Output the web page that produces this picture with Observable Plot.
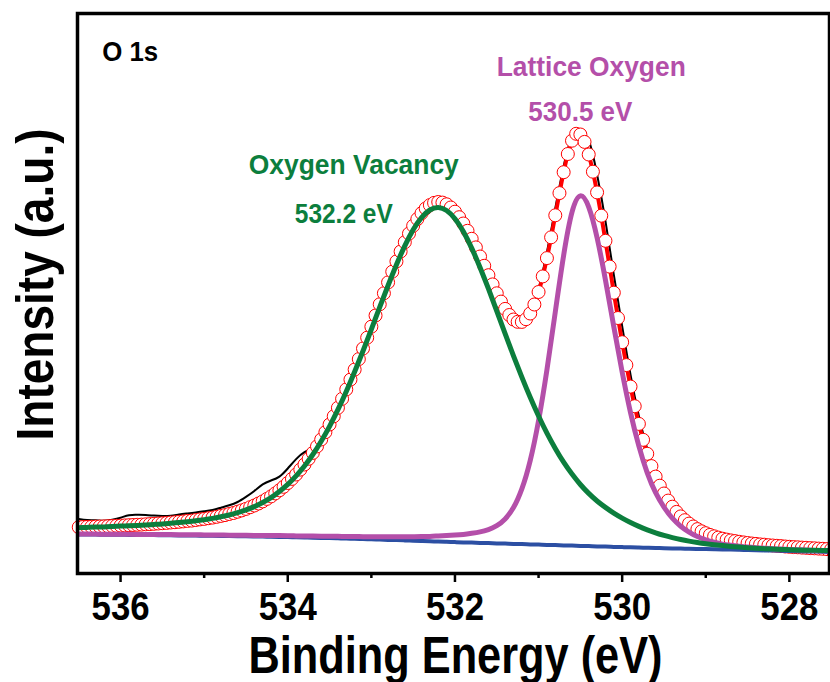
<!DOCTYPE html>
<html>
<head>
<meta charset="utf-8">
<script src="https://cdn.jsdelivr.net/npm/d3@7"></script>
<script src="https://cdn.jsdelivr.net/npm/@observablehq/plot@0.6"></script>
<style>
  html, body { margin: 0; padding: 0; background: #fff; }
  #chart svg { display: block; }
</style>
</head>
<body>
<div id="chart"></div>
<script>
// Binding energy grids (eV): the fitted envelope is sampled every 0.05 eV, the other curves every 0.1 eV
const envelopeStart = 536.5, envelopeStep = 0.05;
const curveStart = 536.5, curveStep = 0.1;

// Fitted envelope (red line with open circles), intensity in a.u.
const envelope = [
  46.3, 46.5, 46.6, 46.7, 46.9, 47.0, 47.1, 47.3, 47.5, 47.7,
  47.9, 48.1, 48.3, 48.5, 48.7, 48.9, 49.2, 49.4, 49.7, 50.0,
  50.3, 50.6, 51.0, 51.3, 51.7, 52.1, 52.6, 52.9, 53.5, 54.1,
  54.6, 55.3, 55.9, 56.7, 57.6, 58.4, 59.5, 60.5, 61.8, 63.1,
  64.6, 66.3, 68.0, 70.0, 72.1, 74.6, 77.1, 80.1, 83.2, 86.7,
  90.5, 94.6, 99.0, 103.9, 109.0, 114.7, 120.6, 127.1, 134.0, 141.3,
  149.0, 157.2, 165.7, 174.7, 184.1, 193.9, 203.9, 214.4, 225.0, 235.8,
  246.8, 258.0, 269.2, 280.2, 291.1, 301.8, 312.1, 322.0, 331.3, 339.9,
  347.7, 354.5, 360.3, 365.1, 368.4, 370.6, 371.5, 370.9, 369.2, 366.0,
  361.8, 356.3, 350.0, 342.7, 334.7, 326.1, 317.0, 307.7, 298.3, 289.1,
  280.2, 271.9, 264.6, 258.5, 254.0, 251.7, 251.6, 254.3, 260.0, 269.0,
  281.5, 297.1, 315.4, 336.2, 358.2, 380.4, 401.3, 419.5, 432.8, 439.7,
  439.0, 431.6, 419.0, 401.8, 381.1, 357.8, 332.7, 306.9, 280.8, 255.5,
  231.3, 208.4, 186.9, 167.3, 149.6, 133.7, 119.7, 107.4, 96.9, 87.8,
  80.0, 72.9, 66.8, 61.6, 57.1, 53.3, 49.9, 47.0, 44.4, 42.2,
  40.3, 38.6, 37.2, 35.9, 34.8, 33.9, 33.1, 32.4, 31.7, 31.1,
  30.5, 30.0, 29.6, 29.1, 28.8, 28.3, 28.0, 27.7, 27.4, 27.0,
  26.7, 26.4, 26.2, 25.9, 25.7, 25.4, 25.2, 24.9, 24.7, 24.4,
  24.2
];

// Background (blue)
const background = [
  39.0, 38.9, 38.9, 38.8, 38.8, 38.7, 38.6, 38.5, 38.5, 38.4,
  38.3, 38.2, 38.1, 38.0, 37.9, 37.8, 37.7, 37.6, 37.4, 37.3,
  37.2, 37.0, 36.9, 36.7, 36.6, 36.4, 36.2, 36.0, 35.8, 35.6,
  35.4, 35.2, 34.9, 34.7, 34.4, 34.2, 33.9, 33.6, 33.4, 33.1,
  32.8, 32.5, 32.2, 32.0, 31.7, 31.4, 31.1, 30.9, 30.6, 30.4,
  30.1, 29.9, 29.6, 29.4, 29.1, 28.9, 28.6, 28.4, 28.1, 27.9,
  27.6, 27.4, 27.1, 26.9, 26.6, 26.4, 26.2, 26.0, 25.7, 25.5,
  25.3, 25.1, 24.9, 24.8, 24.6, 24.4, 24.2, 24.0, 23.9, 23.7,
  23.5, 23.3, 23.1, 22.9, 22.7, 22.5, 22.3, 22.1, 21.9, 21.7,
  21.5
];

// Oxygen vacancy component, 532.2 eV (green)
const vacancyFit = [
  45.8, 46.1, 46.4, 46.6, 47.0, 47.4, 47.7, 48.1, 48.6, 49.1,
  49.6, 50.3, 51.0, 51.8, 52.7, 53.8, 55.1, 56.7, 58.5, 60.8,
  63.6, 66.9, 71.0, 75.9, 82.0, 89.1, 97.6, 107.5, 119.0, 132.3,
  147.2, 163.8, 182.0, 201.7, 222.5, 244.2, 266.3, 288.0, 308.8, 327.6,
  343.7, 355.9, 363.5, 366.0, 363.0, 354.8, 342.0, 325.4, 306.0, 284.8,
  262.5, 239.9, 217.7, 196.4, 176.2, 157.5, 140.4, 125.1, 111.3, 99.4,
  89.0, 80.1, 72.5, 66.1, 60.4, 55.4, 51.0, 47.1, 43.7, 40.7,
  38.1, 35.9, 34.0, 32.4, 31.0, 29.8, 28.8, 27.9, 27.1, 26.4,
  25.8, 25.3, 24.85, 24.45, 24.1, 23.8, 23.55, 23.35, 23.2, 23.05,
  22.9
];

// Lattice oxygen component, 530.5 eV (magenta)
const latticeFit = [
  39.5, 39.4, 39.4, 39.3, 39.3, 39.3, 39.2, 39.1, 39.1, 39.0,
  39.0, 38.9, 38.8, 38.8, 38.7, 38.6, 38.6, 38.5, 38.3, 38.3,
  38.2, 38.1, 38.1, 37.9, 37.9, 37.8, 37.6, 37.5, 37.4, 37.3,
  37.2, 37.2, 37.0, 37.0, 36.8, 36.8, 36.7, 36.7, 36.8, 36.8,
  36.8, 36.9, 37.1, 37.5, 37.9, 38.4, 39.1, 40.2, 41.6, 43.9,
  47.8, 54.6, 65.9, 84.6, 112.9, 152.9, 203.6, 261.5, 318.1, 361.3,
  377.6, 366.3, 335.7, 293.5, 246.7, 201.4, 160.9, 127.3, 100.7, 80.8,
  66.4, 55.3, 47.3, 41.4, 36.9, 33.6, 31.2, 29.4, 28.2, 27.2,
  26.4, 25.8, 25.3, 24.8, 24.4, 24.0, 23.7, 23.4, 23.1, 22.8,
  22.5
];

// Measured spectrum (black)
const rawData = [
  54.5, 53.5, 53.2, 52.8, 53.8, 55.8, 58.3, 58.7, 58.5, 57.9,
  57.5, 57.8, 59.0, 60.0, 61.0, 62.2, 63.6, 65.8, 68.2, 71.5,
  76.6, 82.5, 89.1, 93.0, 96.9, 105.0, 114.4, 121.3, 125.8, 135.0,
  149.0, 166.2, 184.6, 204.4, 225.3, 246.8, 269.2, 291.1, 312.1, 331.3,
  347.7, 360.3, 368.4, 371.5, 369.2, 361.8, 350.0, 334.7, 317.0, 298.3,
  278.2, 260.6, 249.0, 247.6, 259.0, 284.5, 321.4, 365.2, 407.3, 436.0,
  440.0, 433.0, 399.0, 352.7, 298.8, 247.3, 198.9, 157.6, 124.7, 99.9,
  81.0, 66.8, 57.1, 49.9, 44.4, 40.3, 37.0, 34.6, 33.0, 31.5,
  30.3, 29.4, 28.6, 27.8, 27.1, 26.5, 26.0, 25.8, 26.5, 28.0,
  28.5
];

const majorTicks = [536, 534, 532, 530, 528];
const minorTicks = [535, 533, 531, 529];

const envRows = envelope.map((v, i) => ({E: +(envelopeStart - i * envelopeStep).toFixed(2), v}));
const curveRows = background.map((b, i) => ({
  E: +(curveStart - i * curveStep).toFixed(1),
  bg: b, vac: vacancyFit[i], lat: latticeFit[i], raw: rawData[i]
}));

const GREEN = "#0c7e3d", MAGENTA = "#b44fa9", BLUE = "#2c4fa3", RED = "#ff0000";
const FONT = "'Liberation Sans', Arial, Helvetica, sans-serif";

const chart = Plot.plot({
  width: 830,
  height: 682,
  marginLeft: 77,
  marginRight: 1,
  marginTop: 13,
  marginBottom: 109,
  style: {fontFamily: FONT, fontWeight: "bold", background: "#fff", color: "#000"},
  x: {domain: [536.515, 527.52], label: null},
  y: {domain: [0, 560], axis: null},
  marks: [
    Plot.line(curveRows, {x: "E", y: "raw", stroke: "#000", strokeWidth: 2, curve: "natural"}),
    Plot.line(envRows, {x: "E", y: "v", stroke: RED, strokeWidth: 4, curve: "natural"}),
    Plot.dot(envRows, {x: "E", y: "v", r: 6.5, stroke: RED, strokeWidth: 1, fill: "#fff"}),
    Plot.line(curveRows, {x: "E", y: "bg", stroke: BLUE, strokeWidth: 4, curve: "natural"}),
    Plot.line(curveRows, {x: "E", y: "lat", stroke: MAGENTA, strokeWidth: 5, curve: "natural"}),
    Plot.line(curveRows, {x: "E", y: "vac", stroke: GREEN, strokeWidth: 5, curve: "natural"}),
    Plot.axisX(minorTicks, {tickSize: 5, tickFormat: () => "", strokeWidth: 2.5, label: null}),
    Plot.axisX(majorTicks, {tickSize: 9, tickPadding: 11, tickFormat: "d", fontSize: 38, fontWeight: "bold", strokeWidth: 2.5, label: null}),
    Plot.frame({stroke: "#000", strokeWidth: 3.5}),
    Plot.text(["O 1s"], {x: 536.22, y: 513, textAnchor: "start", lineAnchor: "bottom", fontSize: 27, fontWeight: "bold", fill: "#000"}),
    Plot.text(["Oxygen Vacancy"], {x: 533.21, y: 400, lineAnchor: "bottom", fontSize: 28, fontWeight: "bold", fill: GREEN}),
    Plot.text(["532.2 eV"], {x: 533.33, y: 351, lineAnchor: "bottom", fontSize: 28, fontWeight: "bold", fill: GREEN}),
    Plot.text(["Lattice Oxygen"], {x: 530.37, y: 498, lineAnchor: "bottom", fontSize: 28, fontWeight: "bold", fill: MAGENTA}),
    Plot.text(["530.5 eV"], {x: 530.50, y: 453, lineAnchor: "bottom", fontSize: 28, fontWeight: "bold", fill: MAGENTA}),
    Plot.text(["Binding Energy (eV)"], {frameAnchor: "bottom", textAnchor: "middle", dx: 2, dy: 99, lineAnchor: "bottom", fontSize: 51, fontWeight: "bold", fill: "#000"}),
    Plot.text(["Intensity (a.u.)"], {frameAnchor: "left", textAnchor: "middle", rotate: -90, dx: -25, dy: -9, lineAnchor: "bottom", fontSize: 51, fontWeight: "bold", fill: "#000"})
  ]
});

document.getElementById("chart").appendChild(chart);

// Condensed bold lettering as in the original figure: fit each text to its measured width
const textWidths = {
  "536": 58, "534": 58, "532": 58, "530": 58, "528": 58,
  "Binding Energy (eV)": 414,
  "Intensity (a.u.)": 312,
  "O 1s": 56,
  "Oxygen Vacancy": 210,
  "532.2 eV": 98,
  "Lattice Oxygen": 189,
  "530.5 eV": 104
};
d3.select(chart).selectAll("text").each(function () {
  const len = textWidths[this.textContent.trim()];
  if (len) d3.select(this).attr("textLength", len).attr("lengthAdjust", "spacingAndGlyphs");
});
</script>
</body>
</html>
